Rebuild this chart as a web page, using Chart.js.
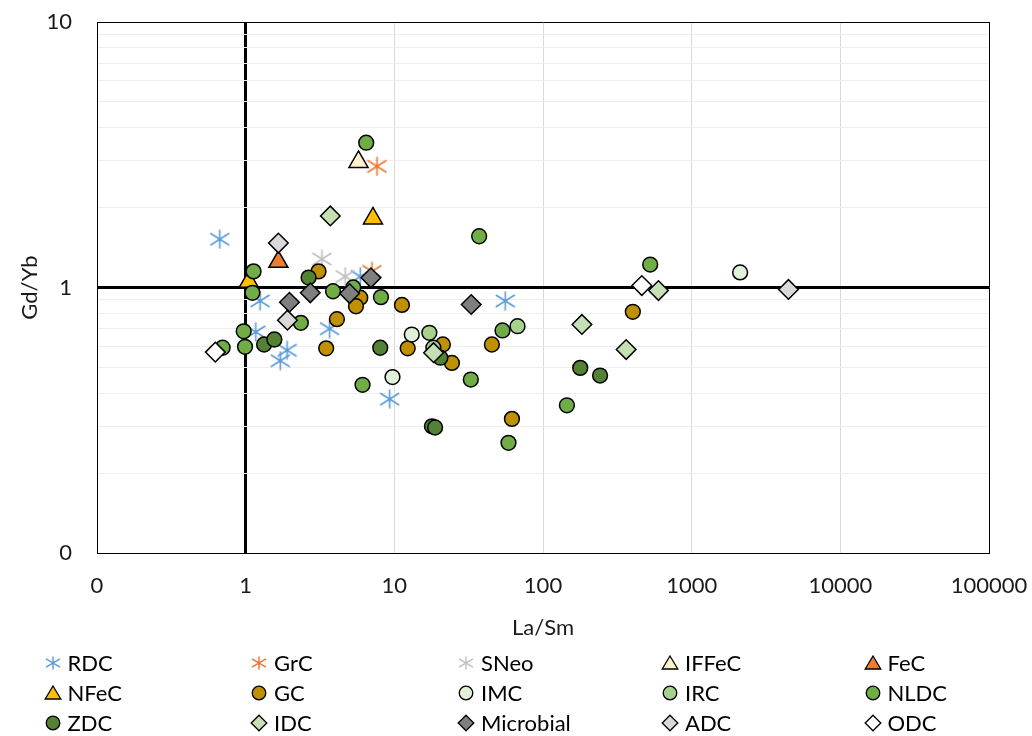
<!DOCTYPE html>
<html><head><meta charset="utf-8">
<script src="https://cdn.jsdelivr.net/npm/chart.js@4/dist/chart.umd.min.js"></script>
<style>
html,body{margin:0;padding:0;background:#fff;}
#wrap{position:relative;width:1032px;height:736px;}
#legend{position:absolute;left:0;top:0;width:1032px;height:736px;pointer-events:none;font-family:Lato,'Liberation Sans',sans-serif;font-size:22px;color:#000;}
.li{position:absolute;height:30px;line-height:30px;white-space:nowrap;}
.li canvas{position:absolute;top:5px;}
.li span{position:absolute;top:0;}
</style></head><body>
<div id="wrap"><canvas id="c" width="1032" height="736"></canvas><div id="legend"></div></div>
<script>
// ---- data (La/Sm, Gd/Yb) ----
const RDC = [[0.67,1.52],[1.25,0.89],[1.17,0.68],[1.9,0.58],[1.71,0.53],[3.67,0.70],[9.3,0.38],[55.7,0.89],[5.9,1.10]];
const GrC = [[7.64,2.86],[7.07,1.15]];
const SNeo = [[3.26,1.28],[4.67,1.10]];
const IFFeC = [[5.74,2.97]];
const FeC = [[1.66,1.25]];
const NFeC = [[7.18,1.82],[1.05,1.05]];
const GC = [[3.09,1.15],[5.9,0.915],[5.52,0.85],[4.11,0.76],[3.48,0.59],[11.25,0.86],[12.3,0.59],[21.2,0.61],[24.4,0.52],[45.3,0.61],[61.8,0.32],[402,0.81]];
const IMC = [[13.1,0.665],[9.72,0.46],[2118,1.14]];
const IRC = [[17.2,0.675],[67.4,0.715],[18.3,0.593]];
const NLDC = [[6.47,3.51],[37.2,1.56],[526,1.22],[1.13,1.15],[1.11,0.955],[0.97,0.684],[0.99,0.598],[0.70,0.593],[2.35,0.736],[3.87,0.968],[8.13,0.92],[5.29,1.0],[53.4,0.689],[32.7,0.45],[58.6,0.26],[6.11,0.43],[144.8,0.36]];
const ZDC = [[2.65,1.09],[1.33,0.61],[1.56,0.637],[8.04,0.593],[17.9,0.30],[18.8,0.297],[20.4,0.544],[178,0.498],[242,0.466]];
const IDC = [[3.71,1.86],[18.35,0.568],[182.7,0.726],[362.6,0.584],[598,0.974]];
const Microbial = [[1.97,0.88],[2.72,0.955],[5.0,0.949],[6.96,1.088],[32.9,0.863]];
const ADC = [[1.66,1.47],[1.91,0.753],[4477,0.983]];
const ODC = [[0.625,0.571],[462,1.017]];

const xTickValues = [0.1,1,10,100,1000,10000,100000];
const xTickLabels = ['0','1','10','100','1000','10000','100000'];
const yTickValues = [0.1,1,10];
const yTickLabels = ['0','1','10'];
const yMinorSteps = [2,3,4,5,6,7,8,9];
const xTitle = 'La/Sm';
const yTitle = 'Gd/Yb';

const FONT = "Lato, 'Liberation Sans', sans-serif";
const TXT = '#1a1a1a';

function asteriskCanvas(color, w, h, lw){
  const c=document.createElement('canvas'); c.width=w; c.height=h;
  const g=c.getContext('2d'); g.strokeStyle=color; g.lineWidth=lw;
  g.beginPath();
  g.moveTo(w/2,0.5); g.lineTo(w/2,h-0.5);
  g.moveTo(1,h*0.2); g.lineTo(w-1,h*0.8);
  g.moveTo(w-1,h*0.2); g.lineTo(1,h*0.8);
  g.stroke();
  return c;
}

const defs = [
  {label:'RDC', data:RDC, style:'ast', color:'#5B9BD5'},
  {label:'GrC', data:GrC, style:'ast', color:'#E8762F'},
  {label:'SNeo', data:SNeo, style:'ast', color:'#BFBFBF'},
  {label:'IFFeC', data:IFFeC, style:'triangle', color:'#FFF2CC'},
  {label:'FeC', data:FeC, style:'triangle', color:'#ED7D31'},
  {label:'NFeC', data:NFeC, style:'triangle', color:'#FFC000'},
  {label:'GC', data:GC, style:'circle', color:'#BF9000'},
  {label:'IMC', data:IMC, style:'circle', color:'#E2F0D9'},
  {label:'IRC', data:IRC, style:'circle', color:'#A9D18E'},
  {label:'NLDC', data:NLDC, style:'circle', color:'#70AD47'},
  {label:'ZDC', data:ZDC, style:'circle', color:'#548235'},
  {label:'IDC', data:IDC, style:'rectRot', color:'#C5E0B4'},
  {label:'Microbial', data:Microbial, style:'rectRot', color:'#7F7F7F'},
  {label:'ADC', data:ADC, style:'rectRot', color:'#D9D9D9'},
  {label:'ODC', data:ODC, style:'rectRot', color:'#FFFFFF'}
];
const sizes = {circle:7.4, triangle:11, rectRot:9.8, ast:10};
const N = defs.length;
const datasets = defs.map((d,i)=>{
  const ds = {
    label:d.label,
    data:d.data.map(p=>({x:p[0],y:p[1]})),
    order:N-i,
    showLine:false
  };
  if(d.style==='ast'){
    ds.pointStyle = asteriskCanvas(d.color,21,20,1.6);
    ds.pointRadius = 10;
    ds.backgroundColor = d.color; ds.borderColor = d.color;
  } else {
    ds.pointStyle = d.style;
    ds.pointRadius = sizes[d.style];
    ds.backgroundColor = d.color;
    ds.borderColor = '#000';
    ds.pointBorderWidth = 1.5;
  }
  ds.pointHoverRadius = ds.pointRadius;
  return ds;
});

const near=(a,b)=>Math.abs(a-b)<1e-9*Math.max(1,Math.abs(b));

new Chart(document.getElementById('c'),{
  type:'scatter',
  data:{datasets},
  options:{
    responsive:false, animation:false, devicePixelRatio:1,
    layout:{padding:{left:0,top:22,right:43,bottom:83}},
    plugins:{legend:{display:false}, tooltip:{enabled:false}},
    scales:{
      x:{
        type:'logarithmic', position:'bottom', min:0.1, max:100000,
        afterBuildTicks:(s)=>{ s.ticks = xTickValues.map(v=>({value:v})); },
        afterFit:(s)=>{ s.height = 100; },
        ticks:{autoSkip:false, maxRotation:0, padding:0, color:TXT,
          font:{family:FONT,size:22},
          callback:(v,i)=>xTickLabels[i]},
        grid:{drawTicks:true, tickLength:20, tickColor:'rgba(0,0,0,0)',
          color:(c)=>{const v=c.tick&&c.tick.value; if(near(v,1)||near(v,0.1)||near(v,100000)) return '#000'; return '#d9d9d9';},
          lineWidth:(c)=>{const v=c.tick&&c.tick.value; return near(v,1)?3:1;}},
        border:{display:true,color:'#000',width:1},
        title:{display:true,text:xTitle,color:TXT,font:{family:FONT,size:22},padding:{top:0,bottom:12}}
      },
      y:{
        type:'logarithmic', position:'left', min:0.1, max:10,
        afterBuildTicks:(s)=>{
          const t=[];
          yTickValues.forEach((d,k)=>{
            t.push({value:d});
            if(k<yTickValues.length-1) yMinorSteps.forEach(m=>t.push({value:+(d*m).toPrecision(6)}));
          });
          s.ticks=t;
        },
        afterFit:(s)=>{ s.width = 97; },
        ticks:{autoSkip:false, padding:0, color:TXT,
          font:{family:FONT,size:22},
          callback:(v)=>{const k=yTickValues.findIndex(d=>near(d,v)); return k>=0?yTickLabels[k]:'';}},
        grid:{drawTicks:true, tickLength:25, tickColor:'rgba(0,0,0,0)',
          color:(c)=>{const v=c.tick&&c.tick.value; if(near(v,1)||near(v,10)||near(v,0.1)) return '#000'; return '#eeeeee';},
          lineWidth:(c)=>{const v=c.tick&&c.tick.value; return near(v,1)?3:1;}},
        border:{display:true,color:'#000',width:1},
        title:{display:true,text:yTitle,color:TXT,font:{family:FONT,size:22},padding:{top:17,bottom:0}}
      }
    }
  }
});

// ---- legend (5 columns x 3 rows) ----
function legendMarker(d){
  const c=document.createElement('canvas'); c.width=20; c.height=20;
  const g=c.getContext('2d'); const cx=10, cy=10;
  if(d.style==='ast'){ const a=asteriskCanvas(d.color,16,14,1.4); g.drawImage(a,cx-8,cy-7); return c; }
  g.fillStyle=d.color; g.strokeStyle='#000'; g.lineWidth=1.3;
  g.beginPath();
  if(d.style==='circle'){ g.arc(cx,cy,6.8,0,Math.PI*2); }
  else if(d.style==='triangle'){ g.moveTo(cx,cy-7); g.lineTo(cx+7.8,cy+6); g.lineTo(cx-7.8,cy+6); g.closePath(); }
  else { g.moveTo(cx,cy-7.8); g.lineTo(cx+7.8,cy); g.lineTo(cx,cy+7.8); g.lineTo(cx-7.8,cy); g.closePath(); }
  g.fill(); g.stroke();
  return c;
}
const colX=[52.5,259,466,670,872.5];
const rowY=[663,693,723];
const leg=document.getElementById('legend');
defs.forEach((d,i)=>{
  const col=i%5, row=Math.floor(i/5);
  const div=document.createElement('div'); div.className='li';
  div.style.left=(colX[col]-10)+'px'; div.style.top=(rowY[row]-15)+'px';
  const cv=legendMarker(d); cv.style.left='0px';
  const sp=document.createElement('span'); sp.textContent=d.label; sp.style.left='25px';
  div.appendChild(cv); div.appendChild(sp); leg.appendChild(div);
});
</script>
</body></html>
